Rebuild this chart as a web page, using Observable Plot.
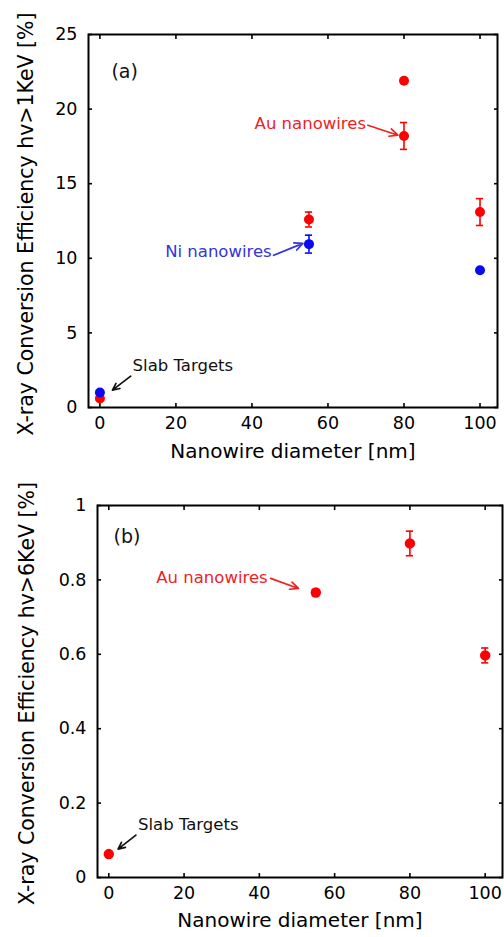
<!DOCTYPE html>
<html>
<head>
<meta charset="utf-8">
<script src="https://cdn.jsdelivr.net/npm/d3@7"></script>
<script src="https://cdn.jsdelivr.net/npm/@observablehq/plot@0.6"></script>
<style>
  html, body { margin: 0; padding: 0; background: #fff; }
  #chart svg { display: block; }
</style>
</head>
<body>
<div id="chart"></div>
<script>
// ---------- data ----------
const xTicks = [0, 20, 40, 60, 80, 100];
const yTicksA = [0, 5, 10, 15, 20, 25];
const yTicksB = [0, 0.2, 0.4, 0.6, 0.8, 1];

const xLabel = "Nanowire diameter [nm]";
const yLabelA = "X-ray Conversion Efficiency hv>1KeV [%]";
const yLabelB = "X-ray Conversion Efficiency hv>6KeV [%]";

// panel (a): hv > 1 keV
const auDiamA = [0, 55, 80, 80, 100];
const auEffA  = [0.6, 12.6, 21.9, 18.2, 13.1];
const auErrA  = [0, 0.5, 0, 0.9, 0.9];
const niDiamA = [0, 55, 100];
const niEffA  = [1.0, 10.95, 9.2];
const niErrA  = [0, 0.6, 0];

// panel (b): hv > 6 keV
const auDiamB = [0, 55, 80, 100];
const auEffB  = [0.063, 0.766, 0.898, 0.597];
const auErrB  = [0, 0.008, 0.033, 0.02];

// annotations (data units)
const notesA = [
  {x: 6.5, y: 22.5, label: "(a)", kind: "panel"},
  {x: 70.0, y: 19.05, label: "Au nanowires", kind: "Au"},
  {x: 45.2, y: 10.41, label: "Ni nanowires", kind: "Ni"},
  {x: 8.6, y: 2.77, label: "Slab Targets", kind: "Slab"}
];
const arrowsA = [
  {x1: 70.5, y1: 18.92, x2: 78.4, y2: 18.25, kind: "Au"},
  {x1: 45.7, y1: 10.2, x2: 53.4, y2: 11.0, kind: "Ni"},
  {x1: 8.1, y1: 2.1, x2: 3.3, y2: 1.16, kind: "Slab"}
];
const notesB = [
  {x: 4.85, y: 0.915, label: "(b)", kind: "panel"},
  {x: 42.2, y: 0.805, label: "Au nanowires", kind: "Au"},
  {x: 7.76, y: 0.141, label: "Slab Targets", kind: "Slab"}
];
const arrowsB = [
  {x1: 43.0, y1: 0.804, x2: 50.4, y2: 0.777, kind: "Au"},
  {x1: 7.2, y1: 0.114, x2: 2.46, y2: 0.0764, kind: "Slab"}
];

// ---------- styles ----------
const dotColor = {Au: "#ff0000", Ni: "#0a0af0"};
const noteColor = {Au: "#ee2222", Ni: "#3434dc", Slab: "#111", panel: "#111"};
const xDomain = [-3, 104.6];

function rows(xs, ys, es, kind) {
  return xs.map((x, i) => ({x, y: ys[i], e: es[i], kind}));
}

function panel(o) {
  const errs = o.series.flat().filter(d => d.e > 0);
  const notes = o.notes;
  return Plot.plot({
    width: 504,
    height: o.height,
    marginLeft: o.marginLeft,
    marginRight: o.marginRight,
    marginTop: o.marginTop,
    marginBottom: o.marginBottom,
    x: {domain: xDomain},
    y: {domain: o.yDomain},
    style: {fontFamily: "DejaVu Sans", fontSize: "17px", background: "#fff", color: "#000"},
    marks: [
      Plot.axisX(xTicks, {anchor: "bottom", tickSize: 0, tickPadding: 9, tickFormat: d => String(d), label: null, fontSize: 17.5}),
      Plot.axisX(xTicks, {anchor: "bottom", tickSize: -4, fill: "none", strokeWidth: 1.6, label: null}),
      Plot.axisX(xTicks, {anchor: "top", tickSize: -4, fill: "none", strokeWidth: 1.6, label: null}),
      Plot.axisY(o.yTicks, {anchor: "left", tickSize: 0, tickPadding: 11, tickFormat: d => String(d), label: null, fontSize: 17.5}),
      Plot.axisY(o.yTicks, {anchor: "left", tickSize: -4, fill: "none", strokeWidth: 1.6, label: null}),
      Plot.axisY(o.yTicks, {anchor: "right", tickSize: -4, fill: "none", strokeWidth: 1.6, label: null}),
      Plot.frame({stroke: "#000", strokeWidth: 2}),
      Plot.text([xLabel], {frameAnchor: "bottom", textAnchor: "middle", dy: o.xLabelDy, fontSize: 20}),
      Plot.text([o.yLabel], {frameAnchor: "left", textAnchor: "middle", rotate: -90, dx: o.yLabelDx, dy: o.yLabelDy, fontSize: 20.5}),
      // error bars
      Plot.ruleX(errs, {x: "x", y1: d => d.y - d.e, y2: d => d.y + d.e, stroke: d => dotColor[d.kind], strokeWidth: 1.6}),
      Plot.ruleY(errs, {x1: "x", x2: "x", y: d => d.y - d.e, insetLeft: -3.6, insetRight: -3.6, stroke: d => dotColor[d.kind], strokeWidth: 1.6}),
      Plot.ruleY(errs, {x1: "x", x2: "x", y: d => d.y + d.e, insetLeft: -3.6, insetRight: -3.6, stroke: d => dotColor[d.kind], strokeWidth: 1.6}),
      // points
      ...o.series.map(s => Plot.dot(s, {x: "x", y: "y", r: o.r, fill: d => dotColor[d.kind], stroke: null})),
      // annotations
      Plot.arrow(o.arrows, {x1: "x1", y1: "y1", x2: "x2", y2: "y2", stroke: d => noteColor[d.kind], strokeWidth: 1.7, headLength: 8, headAngle: 50, bend: false}),
      Plot.text(notes.filter(d => d.kind === "panel"), {x: "x", y: "y", text: "label", fontSize: 19, fill: "#111"}),
      Plot.text(notes.filter(d => d.kind === "Au" || d.kind === "Ni"), {x: "x", y: "y", text: "label", fontSize: 16.5, textAnchor: "end", fill: d => noteColor[d.kind]}),
      Plot.text(notes.filter(d => d.kind === "Slab"), {x: "x", y: "y", text: "label", fontSize: 16.5, textAnchor: "start", fill: "#111"})
    ]
  });
}

const chartA = panel({
  height: 470, marginLeft: 88, marginRight: 7, marginTop: 34, marginBottom: 63,
  yDomain: [0, 25], yTicks: yTicksA, yLabel: yLabelA,
  xLabelDy: 50, yLabelDx: -62, yLabelDy: 3, r: 5,
  series: [rows(auDiamA, auEffA, auErrA, "Au"), rows(niDiamA, niEffA, niErrA, "Ni")],
  notes: notesA, arrows: arrowsA
});
const chartB = panel({
  height: 467, marginLeft: 97, marginRight: 2, marginTop: 35, marginBottom: 60,
  yDomain: [0, 1], yTicks: yTicksB, yLabel: yLabelB,
  xLabelDy: 49, yLabelDx: -70, yLabelDy: 2, r: 5.2,
  series: [rows(auDiamB, auEffB, auErrB, "Au")],
  notes: notesB, arrows: arrowsB
});
document.getElementById("chart").append(chartA, chartB);
</script>
</body>
</html>
